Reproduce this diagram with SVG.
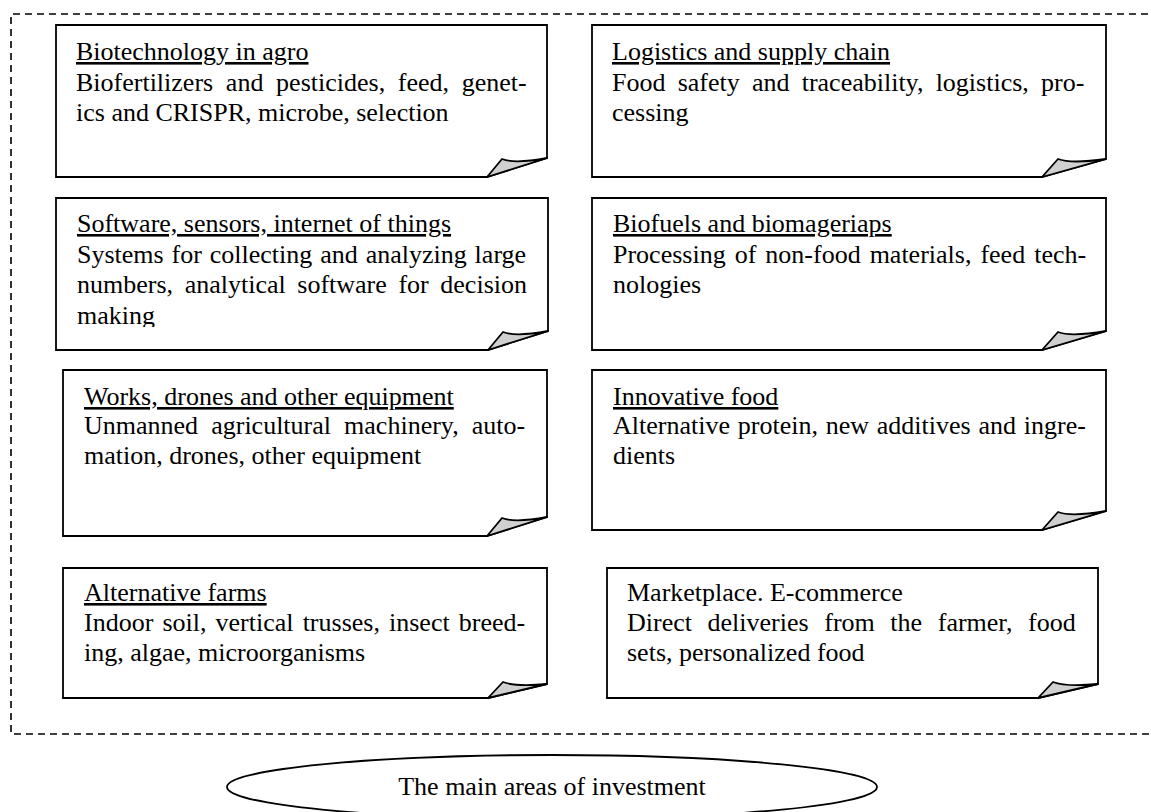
<svg xmlns="http://www.w3.org/2000/svg" width="1151" height="812" viewBox="0 0 1151 812">
  <style>
    .frame { fill: none; stroke: #000; stroke-width: 1.6; stroke-dasharray: 7 5; }
    .note { fill: #fff; stroke: #000; stroke-width: 1.8; stroke-linejoin: miter; }
    .fold { fill: #d0d0d0; stroke: #000; stroke-width: 1.8; stroke-linejoin: round; }
    text { font-family: "Liberation Serif", "Times New Roman", serif; font-size: 26px; fill: #000; }
    .head { text-decoration: underline; }
    .oval { fill: #fff; stroke: #000; stroke-width: 1.8; }
  </style>
  <defs>
    <clipPath id="clipSoftware">
      <rect x="56" y="199" width="491" height="128"/>
    </clipPath>
  </defs>

  <rect width="1151" height="812" fill="#fff"/>

  <!-- dashed frame around all investment areas (open to the right edge) -->
  <path class="frame" d="M1160 14 H11 V734 H1160"/>

  <!-- nodes -->
  <g id="biotech">
    <path class="note" d="M56 25 H547 V158 L487 177 H56 Z"/>
    <path class="fold" d="M487 177 L502 159 Q515 164 547 158 Z"/>
    <text x="76" y="60" class="head">Biotechnology in agro</text>
    <text x="76" y="91" word-spacing="6.2">Biofertilizers and pesticides, feed, genet-</text>
    <text x="76" y="121">ics and CRISPR, microbe, selection</text>
  </g>

  <g id="logistics">
    <path class="note" d="M592 25 H1106 V159 L1042 177 H592 Z"/>
    <path class="fold" d="M1042 177 L1058 159 Q1071 164 1106 159 Z"/>
    <text x="612" y="60" class="head">Logistics and supply chain</text>
    <text x="612" y="91" word-spacing="5.7">Food safety and traceability, logistics, pro-</text>
    <text x="612" y="121">cessing</text>
  </g>

  <g id="software">
    <path class="note" d="M56 198 H548 V331 L488 350 H56 Z"/>
    <path class="fold" d="M488 350 L503 332 Q516 337 548 331 Z"/>
    <text x="77" y="232" class="head">Software, sensors, internet of things</text>
    <text x="77" y="263" word-spacing="1.4">Systems for collecting and analyzing large</text>
    <text x="77" y="293" word-spacing="5.1">numbers, analytical software for decision</text>
    <text x="77" y="324" clip-path="url(#clipSoftware)">making</text>
  </g>

  <g id="biofuels">
    <path class="note" d="M592 198 H1106 V331 L1042 350 H592 Z"/>
    <path class="fold" d="M1042 350 L1058 332 Q1071 337 1106 331 Z"/>
    <text x="613" y="232" class="head">Biofuels and biomageriaps</text>
    <text x="613" y="263" word-spacing="2.5">Processing of non-food materials, feed tech-</text>
    <text x="613" y="293">nologies</text>
  </g>

  <g id="robotics">
    <path class="note" d="M63 370 H547 V517 L487 536 H63 Z"/>
    <path class="fold" d="M487 536 L502 518 Q515 523 547 517 Z"/>
    <text x="84" y="405" class="head">Works, drones and other equipment</text>
    <text x="84" y="434" word-spacing="6.6">Unmanned agricultural machinery, auto-</text>
    <text x="84" y="464">mation, drones, other equipment</text>
  </g>

  <g id="food">
    <path class="note" d="M592 370 H1106 V511 L1042 530 H592 Z"/>
    <path class="fold" d="M1042 530 L1058 512 Q1071 517 1106 511 Z"/>
    <text x="613" y="405" class="head">Innovative food</text>
    <text x="613" y="434" word-spacing="1.3">Alternative protein, new additives and ingre-</text>
    <text x="613" y="464">dients</text>
  </g>

  <g id="farms">
    <path class="note" d="M63 568 H547 V684 L488 698 H63 Z"/>
    <path class="fold" d="M488 698 L503 682 Q516 687 547 684 Z"/>
    <text x="84" y="601" class="head">Alternative farms</text>
    <text x="84" y="631" word-spacing="2.6">Indoor soil, vertical trusses, insect breed-</text>
    <text x="84" y="661">ing, algae, microorganisms</text>
  </g>

  <g id="marketplace">
    <path class="note" d="M607 568 H1098 V684 L1038 698 H607 Z"/>
    <path class="fold" d="M1038 698 L1053 682 Q1066 687 1098 684 Z"/>
    <text x="627" y="601">Marketplace. E-commerce</text>
    <text x="627" y="631" word-spacing="9.1">Direct deliveries from the farmer, food</text>
    <text x="627" y="661">sets, personalized food</text>
  </g>

  <!-- caption oval -->
  <g id="caption">
    <ellipse class="oval" cx="552" cy="787" rx="325" ry="32"/>
    <text x="552" y="795" text-anchor="middle">The main areas of investment</text>
  </g>

  <!-- no connectors in this figure -->
  <g id="connectors"/>
</svg>
